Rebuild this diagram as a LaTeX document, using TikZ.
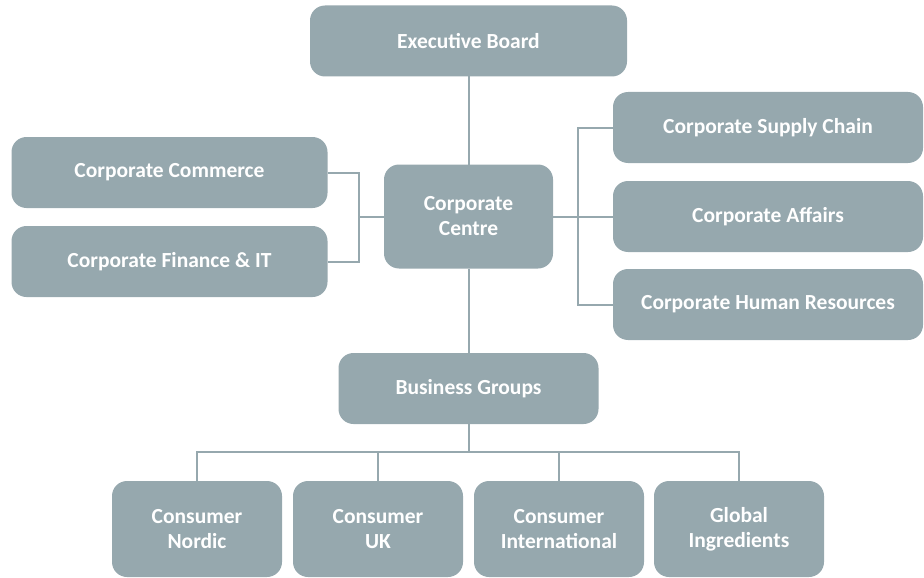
\documentclass[tikz,border=0pt]{standalone}
\usepackage{fontspec}
\setmainfont{Carlito}
\usetikzlibrary{positioning}
\definecolor{boxgrey}{RGB}{150,168,174}

\tikzset{
  unit/.style={rectangle, fill=boxgrey, rounded corners=15pt, inner sep=0pt, outer sep=0pt,
    align=center, text=white, font=\fontsize{21.5}{25}\selectfont\bfseries},
  link/.style={draw=boxgrey, line width=2pt}
}

\begin{document}
\begin{tikzpicture}[x=1pt, y=-1pt]
            \useasboundingbox (0,0) rectangle (924,578);

            % Centre of the chart
            \node[unit, minimum width=169pt, minimum height=104pt] (centre) at (468.5,216.5)
                {Corporate \\ Centre};

            % Top
            \node[unit, minimum width=317pt, minimum height=71pt, above=88pt of centre] (board)
                {Executive Board};

            % Left staff functions
            \node[unit, minimum width=316pt, minimum height=71pt] (commerce) at (169.5,172.5)
                {Corporate Commerce};
            \node[unit, minimum width=316pt, minimum height=71pt, below=18pt of commerce] (finance)
                {Corporate Finance \& IT};

            % Right staff functions
            \node[unit, minimum width=310pt, minimum height=71pt] (supply) at (768,127.5)
                {Corporate Supply Chain};
            \node[unit, minimum width=310pt, minimum height=71pt, below=18pt of supply] (affairs)
                {Corporate Affairs};
            \node[unit, minimum width=310pt, minimum height=71pt, below=17pt of affairs] (hr)
                {Corporate Human Resources};

            % Business groups
            \node[unit, minimum width=260pt, minimum height=71pt] (groups) at (468.5,388.5)
                {Business Groups};
            \node[unit, minimum width=170pt, minimum height=96pt] (nordic) at (197,529)
                {Consumer \\ Nordic};
            \node[unit, minimum width=170pt, minimum height=96pt, right=11pt of nordic] (uk)
                {Consumer \\ UK};
            \node[unit, minimum width=170pt, minimum height=96pt, right=11pt of uk] (intl)
                {Consumer \\ International};
            \node[unit, minimum width=170pt, minimum height=96pt, right=10pt of intl] (global)
                {Global \\ Ingredients};

            % Junctions
            \coordinate (ljoin) at (359,216.5);
            \coordinate (rjoin) at (578,216.5);
            \coordinate (bjoin) at (468.5,452);

            % Lines
            \draw[link] (board) -- (centre);
            \draw[link] (centre) -- (groups);
            \draw[link] (commerce.east) -| (ljoin) |- (finance.east);
            \draw[link] (centre.west) -- (ljoin);
            \draw[link] (centre.east) -- (affairs.west);
            \draw[link] (supply.west) -| (rjoin) |- (hr.west);
            \draw[link] (groups.south) -- (bjoin);
            \draw[link] (nordic.north) |- (bjoin);
            \draw[link] (uk.north) |- (bjoin);
            \draw[link] (intl.north) |- (bjoin);
            \draw[link] (global.north) |- (bjoin);
        \end{tikzpicture}
\end{document}
